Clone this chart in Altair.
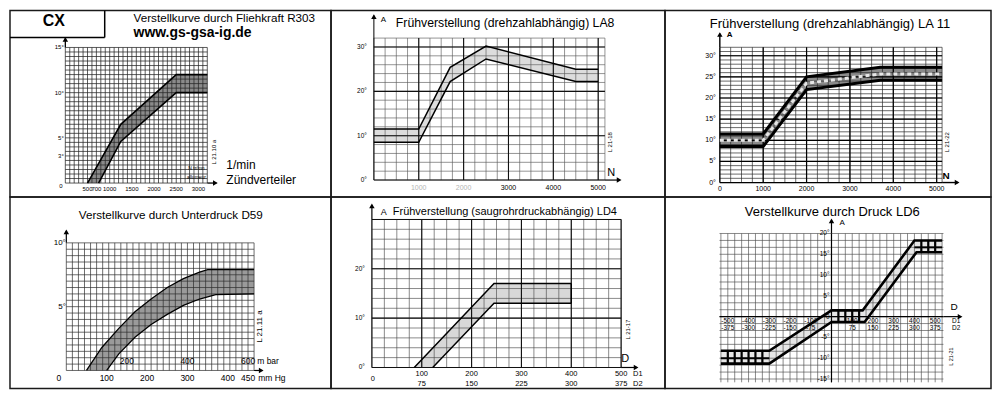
import altair as alt
import pandas as pd
import numpy as np

FONT = "Liberation Sans"

# ================= data =================
# Panel 1: Verstellkurve durch Fliehkraft R303  (x: 1/min, y: degrees)
r303_up_x = [500, 1250, 2500, 3200]
r303_up_y = [0, 6.5, 12, 12]
r303_lo_x = [750, 1250, 2500, 3200]
r303_lo_y = [0, 4.6, 10, 10]
r303_xticks = [500, 700, 1000, 1500, 2000, 2500, 3000]
r303_yticks = [3, 5, 10, 15]
r303_ylabels = ["3°", "5°", "10°", "15°"]

# Panel 2: Frühverstellung LA8
la8_x = [0, 1000, 1700, 2500, 4500, 5000]
la8_up = [11.5, 11.5, 25.4, 30.2, 25.0, 25.0]
la8_lo = [8.5, 8.5, 22.2, 27.3, 22.2, 22.2]
la8_xticks_faint = [1000, 2000]
la8_xticks = [3000, 4000, 5000]
la8_yticks = [0, 10, 20, 30]
la8_ylabels = ["0°", "10°", "20°", "30°"]

# Panel 3: Frühverstellung LA 11
la11_x = [0, 1000, 2000, 3700, 5125]
la11_up = [11.5, 11.5, 25.0, 27.3, 27.3]
la11_mid = [10.0, 10.0, 23.5, 25.7, 25.7]
la11_lo = [8.5, 8.5, 22.0, 24.2, 24.2]
la11_xticks = [0, 1000, 2000, 3000, 4000, 5000]
la11_yticks = [0, 5, 10, 15, 20, 25, 30]
la11_ylabels = ["0°", "5°", "10°", "15°", "20°", "25°", "30°"]

# Panel 4: Verstellkurve durch Unterdruck D59 (x: mm Hg)
d59_up_x = [50, 88, 130, 170, 210, 250, 290, 330, 350, 465]
d59_up_y = [0, 1.8, 3.3, 4.6, 5.6, 6.5, 7.2, 7.7, 7.9, 7.9]
d59_lo_x = [100, 130, 170, 210, 250, 290, 330, 370, 465]
d59_lo_y = [0, 1.3, 2.6, 3.6, 4.4, 5.1, 5.6, 5.95, 6.0]
d59_mmhg_ticks = [100, 200, 300, 400, 450]
d59_mbar_pos = [150, 300, 450]
d59_mbar_labels = ["200", "400", "600"]
d59_yticks = [5, 10]
d59_ylabels = ["5°", "10°"]

# Panel 5: Frühverstellung LD4 (x: D1)
ld4_up_x = [85, 245, 400]
ld4_up_y = [0, 17, 17]
ld4_lo_x = [122, 245, 400]
ld4_lo_y = [0, 13, 13]
ld4_d1 = [100, 200, 300, 400, 500]
ld4_d2 = ["75", "150", "225", "300", "375"]
ld4_yticks = [0, 10, 20]
ld4_ylabels = ["0°", "10°", "20°"]

# Panel 6: Verstellkurve durch Druck LD6 (x: D1)
ld6_up_x = [-533.3, -300, 0, 150, 400, 533.3]
ld6_up_y = [-8.2, -8.2, 1.5, 1.5, 18.3, 18.3]
ld6_lo_x = [-533.3, -300, 0, 160, 410, 533.3]
ld6_lo_y = [-11.3, -11.3, -1.3, -1.3, 15.5, 15.5]
# heavy "ladder" rungs inside the flat parts of the band
ld6_rung_x = [-500, -466.7, -433.3, -400, -366.7, -333.3, 33.3, 66.7, 100, 133.3,
              433.3, 466.7, 500]
ld6_rung_lo = [-11.3] * 6 + [-1.3] * 4 + [15.5] * 3
ld6_rung_hi = [-8.2] * 6 + [1.5] * 4 + [18.3] * 3
ld6_d1 = [-500, -400, -300, -200, -100, 100, 200, 300, 400, 500]
ld6_d1_labels = ["-500", "-400", "-300", "-200", "-100", "100", "200", "300", "400", "500"]
ld6_d2_labels = ["-375", "-300", "-225", "-150", "-75", "75", "150", "225", "300", "375"]
ld6_yticks = [20, 15, 10, 5, 0, -5, -10, -15]
ld6_ylabels = ["20°", "15°", "10°", "5°", "0", "-5°", "-10°", "-15°"]

ONE = [{"a": 1}]


class Panel:
    def __init__(self, L, T, W, H, xpx, xval, ypx, yval):
        self.L, self.T, self.W, self.H = L, T, W, H
        kx = (xpx[1] - xpx[0]) / (xval[1] - xval[0])
        x0 = xval[0] - (xpx[0] - L) / kx
        self.xdom = [x0, x0 + W / kx]
        ky = (ypx[0] - ypx[1]) / (yval[1] - yval[0])
        y0 = yval[0] - (T + H - ypx[0]) / ky
        self.ydom = [y0, y0 + H / ky]
        self.layers = []

    def xabs(self, v):
        return self.L + (v - self.xdom[0]) * self.W / (self.xdom[1] - self.xdom[0])

    def yabs(self, v):
        return self.T + self.H - (v - self.ydom[0]) * self.H / (self.ydom[1] - self.ydom[0])

    def X(self, f):
        return alt.X(f, type="quantitative", axis=None,
                     scale=alt.Scale(domain=self.xdom, nice=False, zero=False))

    def Y(self, f):
        return alt.Y(f, type="quantitative", axis=None,
                     scale=alt.Scale(domain=self.ydom, nice=False, zero=False))

    def grid(self, xs, ys, xr, yr, color, width, dash=None):
        kw = dict(color=color, strokeWidth=width)
        if dash:
            kw["strokeDash"] = dash
        if len(xs):
            v = pd.DataFrame({"x": list(xs), "ya": yr[0], "yb": yr[1]})
            self.layers.append(alt.Chart(v).mark_rule(**kw).encode(
                x=self.X("x"), y=self.Y("ya"), y2=alt.Y2("yb")))
        if len(ys):
            h = pd.DataFrame({"y": list(ys), "xa": xr[0], "xb": xr[1]})
            self.layers.append(alt.Chart(h).mark_rule(**kw).encode(
                y=self.Y("y"), x=self.X("xa"), x2=alt.X2("xb")))

    def vsegs(self, xs, y0s, y1s, color="black", width=2.0):
        df = pd.DataFrame({"x": list(xs), "ya": list(y0s), "yb": list(y1s)})
        self.layers.append(alt.Chart(df).mark_rule(color=color, strokeWidth=width).encode(
            x=self.X("x"), y=self.Y("ya"), y2=alt.Y2("yb")))

    def band(self, ux, uy, lx, ly, fill):
        xs = list(ux) + list(lx)[::-1]
        ys = list(uy) + list(ly)[::-1]
        df = pd.DataFrame({"x": xs, "y": ys, "i": list(range(len(xs)))})
        self.layers.append(alt.Chart(df).mark_line(
            fill=fill, fillOpacity=1, strokeWidth=0).encode(
            x=self.X("x"), y=self.Y("y"), order=alt.Order("i:Q")))

    def line(self, xs, ys, color="black", width=1.5, dash=None):
        df = pd.DataFrame({"x": list(xs), "y": list(ys), "i": list(range(len(xs)))})
        kw = dict(color=color, strokeWidth=width)
        if dash:
            kw["strokeDash"] = dash
        self.layers.append(alt.Chart(df).mark_line(**kw).encode(
            x=self.X("x"), y=self.Y("y"), order=alt.Order("i:Q")))

    def rule_px(self, x1, y1, x2, y2, color="black", width=1.0):
        enc = dict(x=alt.value(x1 - self.L), y=alt.value(y1 - self.T))
        if x2 != x1:
            enc["x2"] = alt.value(x2 - self.L)
        if y2 != y1:
            enc["y2"] = alt.value(y2 - self.T)
        self.layers.append(alt.Chart(alt.Data(values=ONE)).mark_rule(
            color=color, strokeWidth=width).encode(**enc))

    def head(self, x, y, shape, size=30):
        self.layers.append(alt.Chart(alt.Data(values=ONE)).mark_point(
            shape=shape, filled=True, size=size, color="black", opacity=1).encode(
            x=alt.value(x - self.L), y=alt.value(y - self.T)))

    def arrow_up(self, x, ybot, ytop, width=1.0):
        self.rule_px(x, ybot, x, ytop + 2, width=width)
        self.head(x, ytop + 3, "triangle-up")

    def arrow_right(self, xl, xr, y, width=1.0):
        self.rule_px(xl, y, xr - 2, y, width=width)
        self.head(xr - 3, y, "triangle-right")

    def text(self, s, x, y, size=10, align="left", weight="normal", angle=0,
             color="black", baseline="middle"):
        kw = dict(font=FONT, fontSize=size, align=align, baseline=baseline,
                  fontWeight=weight, color=color)
        if angle:
            kw["angle"] = angle
        self.layers.append(alt.Chart(alt.Data(values=[{"t": s}])).mark_text(**kw).encode(
            x=alt.value(x - self.L), y=alt.value(y - self.T), text="t:N"))

    def xlabels(self, vals, labels, y, size=7, color="black", align="center"):
        df = pd.DataFrame({"v": list(vals), "t": list(labels)})
        self.layers.append(alt.Chart(df).mark_text(
            font=FONT, fontSize=size, color=color, align=align, baseline="middle").encode(
            x=self.X("v"), y=alt.value(y - self.T), text="t:N"))

    def ylabels(self, vals, labels, x, size=7, color="black"):
        df = pd.DataFrame({"v": list(vals), "t": list(labels)})
        self.layers.append(alt.Chart(df).mark_text(
            font=FONT, fontSize=size, color=color, align="right", baseline="middle").encode(
            y=self.Y("v"), x=alt.value(x - self.L), text="t:N"))

    def chart(self):
        return alt.layer(*self.layers).properties(width=self.W, height=self.H)


# ---------------- Panel 1 ----------------
p1 = Panel(8, 8, 322, 187, xpx=(63.5, 205.9), xval=(0, 3200), ypx=(181, 45), yval=(0, 15))
p1.band(r303_up_x, r303_up_y, r303_lo_x, r303_lo_y, "#8a8a8a")
p1.grid(np.arange(0, 3201, 100), np.arange(0, 15.01, 0.5), (0, 3200), (0, 15), "#262626", 0.75)
p1.line(r303_up_x, r303_up_y, width=1.6)
p1.line(r303_lo_x, r303_lo_y, width=1.6)
p1.arrow_right(p1.xabs(3200), 217, p1.yabs(0), width=1.3)
p1.arrow_up(p1.xabs(0), p1.yabs(15), 34, width=1.3)
p1.xlabels(r303_xticks, [str(v) for v in r303_xticks], 186.5, size=6)
p1.ylabels(r303_yticks, r303_ylabels, 62, size=6)
p1.text("0", 59, 184, size=6, align="center")
p1.text("N tr/mn", 195, 166, size=5, align="center")
p1.text("allumeur", 195, 175, size=5, align="center")
p1.text("L 21.10 a", 213, 150, size=6, align="center", angle=270)
p1.text("1/min", 225, 163, size=12)
p1.text("Zündverteiler", 225, 178, size=12)
p1.text("Verstellkurve durch Fliehkraft R303", 132, 15, size=11.7)
p1.text("www.gs-gsa-ig.de", 132, 31, size=14, weight="bold")
p1.rule_px(103, 8, 103, 35, width=1.5)
p1.rule_px(8, 35, 103, 35, width=1.5)
p1.text("CX", 52, 18, size=16, align="center", weight="bold")

# ---------------- Panel 2 ----------------
p2 = Panel(330, 8, 335, 187, xpx=(373, 598), xval=(0, 5000), ypx=(178, 44.5), yval=(0, 30))
p2.band(la8_x, la8_up, la8_x, la8_lo, "#dcdcdc")
p2.grid(list(range(0, 5001, 250)) + [5150], list(range(0, 33, 2)), (0, 5150), (0, 32), "#5a5a5a", 0.65)
p2.grid(list(range(0, 5001, 1000)), [0, 10, 20, 30], (0, 5150), (0, 32), "#111111", 1.1)
p2.line(la8_x, la8_up, width=1.5)
p2.line(la8_x, la8_lo, width=1.5)
p2.arrow_right(p2.xabs(5150), 622, p2.yabs(0), width=1.2)
p2.arrow_up(p2.xabs(0), p2.yabs(32), 11, width=1.0)
p2.text("N", 611, 171, size=11, align="center")
p2.text("A", 380, 17, size=8)
p2.text("Frühverstellung (drehzahlabhängig) LA8", 395, 20, size=12.3)
p2.xlabels(la8_xticks_faint, [str(v) for v in la8_xticks_faint], 186, size=7, color="#b5b5b5")
p2.xlabels(la8_xticks, [str(v) for v in la8_xticks], 186, size=7)
p2.ylabels(la8_yticks, la8_ylabels, 366, size=6.5)
p2.text("L 21-18", 610, 140, size=6, align="center", angle=270)

# ---------------- Panel 3 ----------------
p3 = Panel(665, 8, 327, 187, xpx=(720, 937.5), xval=(0, 5000), ypx=(180.5, 53.3), yval=(0, 30))
p3.band(la11_x, la11_up, la11_x, la11_lo, "#8a8a8a")
p3.grid(list(range(0, 5001, 250)) + [5125], list(range(0, 33, 1)), (0, 5125), (0, 32), "#2a2a2a", 0.7)
p3.grid(list(range(0, 5001, 1000)), list(range(0, 31, 5)), (0, 5125), (0, 32), "#000000", 1.2)
p3.line(la11_x, la11_mid, color="#e6e6e6", width=3, dash=[4, 3])
p3.line(la11_x, la11_up, width=3)
p3.line(la11_x, la11_lo, width=3)
p3.arrow_right(p3.xabs(5125), 961, p3.yabs(0), width=1.4)
p3.arrow_up(p3.xabs(0), p3.yabs(32), 29, width=1.4)
p3.text("N", 947, 174, size=10, align="center", weight="bold")
p3.text("A", 727, 33, size=8, weight="bold")
p3.text("Frühverstellung (drehzahlabhängig) LA 11", 710, 21, size=13)
p3.xlabels(la11_xticks, [str(v) for v in la11_xticks], 187, size=7)
p3.ylabels(la11_yticks, la11_ylabels, 716, size=7)
p3.text("L 21-22", 948, 140, size=6, align="center", angle=270)

# ---------------- Panel 4 ----------------
p4 = Panel(8, 195, 322, 192, xpx=(64.5, 246.75), xval=(0, 450), ypx=(369, 241), yval=(0, 10))
p4.band(d59_up_x, d59_up_y, d59_lo_x, d59_lo_y, "#9a9a9a")
p4.grid(np.arange(0, 466, 15), np.arange(0, 10.01, 0.5), (0, 465), (0, 10), "#2c2c2c", 0.7)
p4.line(d59_up_x, d59_up_y, width=1.3)
p4.line(d59_lo_x, d59_lo_y, width=1.3)
p4.arrow_right(p4.xabs(465), 263, p4.yabs(0), width=1.2)
p4.arrow_up(p4.xabs(0), p4.yabs(10), 227, width=1.2)
p4.xlabels(d59_mmhg_ticks, [str(v) for v in d59_mmhg_ticks], 377, size=8.5)
p4.text("0", 57, 377, size=8.5, align="center")
p4.text("mm Hg", 257, 377, size=8.5)
p4.xlabels(d59_mbar_pos, d59_mbar_labels, 360, size=8.5)
p4.text("m bar", 256, 360, size=8.5)
p4.ylabels(d59_yticks, d59_ylabels, 64, size=8)
p4.text("L 21.11 a", 259, 325, size=8, align="center", angle=270)
p4.text("Verstellkurve durch Unterdruck D59", 77, 213, size=11.7)

# ---------------- Panel 5 ----------------
p5 = Panel(330, 195, 335, 192, xpx=(371, 621), xval=(0, 500), ypx=(366, 217.5), yval=(0, 30))
p5.band(ld4_up_x, ld4_up_y, ld4_lo_x, ld4_lo_y, "#d8d8d8")
p5.grid(list(range(0, 501, 25)), list(range(0, 31, 2)), (0, 500), (0, 30), "#4a4a4a", 0.65)
p5.grid(list(range(0, 501, 100)), [0, 10, 20, 30], (0, 500), (0, 30), "#111111", 1.1)
p5.line(ld4_up_x, ld4_up_y, width=1.5)
p5.line(ld4_lo_x, ld4_lo_y, width=1.5)
p5.line([ld4_up_x[-1], ld4_lo_x[-1]], [ld4_up_y[-1], ld4_lo_y[-1]], width=1.5)
p5.arrow_right(p5.xabs(500), 639, p5.yabs(0), width=1.2)
p5.arrow_up(p5.xabs(0), p5.yabs(30), 201, width=1.2)
p5.text("D", 625, 357, size=11, align="center")
p5.text("A", 380, 210, size=9)
p5.text("Frühverstellung (saugrohrdruckabhängig) LD4", 392, 210, size=11)
p5.xlabels(ld4_d1, [str(v) for v in ld4_d1], 373, size=7.5)
p5.xlabels(ld4_d1, ld4_d2, 383, size=7.5)
p5.text("0", 372, 378, size=7.5, align="center")
p5.text("D1", 633, 373, size=7.5)
p5.text("D2", 633, 383, size=7.5)
p5.ylabels(ld4_yticks, ld4_ylabels, 364, size=6.5)
p5.text("L 21-17", 628, 328, size=6, align="center", angle=270)

# ---------------- Panel 6 ----------------
p6 = Panel(665, 195, 327, 192, xpx=(832, 936), xval=(0, 500), ypx=(315, 231.6), yval=(0, 20))
p6.band(ld6_up_x, ld6_up_y, ld6_lo_x, ld6_lo_y, "#e6e6e6")
p6.grid([k * 100 / 3 for k in range(-16, 17)], [k * 5 / 3 for k in range(-9, 13)],
        (-540, 540), (-15.8, 20), "#4a4a4a", 0.65)
p6.grid([0], [0], (-540, 540), (-15.8, 20), "#000000", 1.2)
p6.vsegs(ld6_rung_x, ld6_rung_lo, ld6_rung_hi, width=2.2)
p6.line([ld6_up_x[0], ld6_up_x[1]], [-10, -10], width=2.0)
p6.line([ld6_up_x[-2], ld6_up_x[-1]], [16.67, 16.67], width=2.0)
p6.line(ld6_up_x, ld6_up_y, width=2.6)
p6.line(ld6_lo_x, ld6_lo_y, width=2.6)
p6.arrow_right(p6.xabs(540), 964, p6.yabs(0), width=1.2)
p6.arrow_up(p6.xabs(0), p6.yabs(20), 216, width=1.2)
p6.text("D", 955, 305, size=10, align="center")
p6.text("A", 840, 221, size=8)
p6.text("Verstellkurve durch Druck LD6", 745, 210, size=13)
p6.xlabels(ld6_d1, ld6_d1_labels, 319, size=6.5)
p6.xlabels(ld6_d1, ld6_d2_labels, 326, size=6.5)
p6.text("D1", 953, 319, size=6.5)
p6.text("D2", 953, 326, size=6.5)
p6.ylabels(ld6_yticks, ld6_ylabels, 830, size=6.5)
p6.text("L 21-21", 952, 355, size=5.5, align="center", angle=270)

chart = (
    alt.concat(p1.chart(), p2.chart(), p3.chart(), p4.chart(), p5.chart(), p6.chart(),
               columns=3, spacing=0, bounds="flush", align="each")
    .properties(padding=0)
    .configure(background="white")
    .configure_view(stroke="#1a1a1a", strokeWidth=1.5)
)

chart.save("out.html", embed_options={"renderer": "svg", "actions": False})
